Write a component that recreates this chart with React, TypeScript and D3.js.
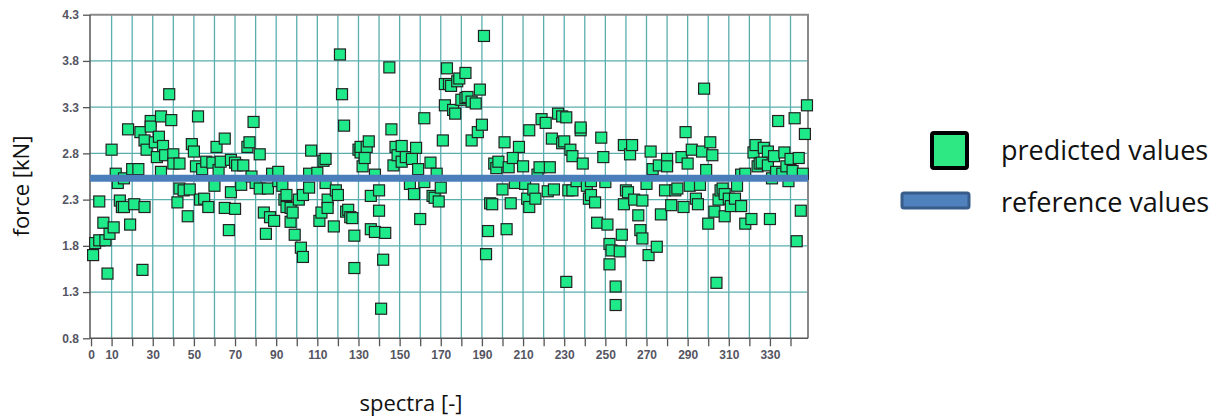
import * as d3 from "d3";
import { useEffect, useRef } from "react";

// spectrum index of every predicted point
const spectra = [
  1, 2, 4, 4, 6, 7, 8, 9, 10, 11, 12, 13, 14, 15, 16, 16, 18, 19, 20, 21, 23, 24, 25, 26, 26, 27, 29, 29, 31, 32, 33, 34, 34, 35, 36, 38, 39, 40, 40, 42, 43, 43, 45, 47, 48, 49, 50, 51, 52, 53, 54, 55, 56, 57,
  59, 60, 61, 62, 63, 65, 65, 67, 68, 68, 70, 70, 71, 73, 74, 76, 77, 78, 79, 80, 82, 82, 84, 85, 86, 87, 88, 89, 91, 91, 93, 94, 95, 95, 97, 97, 98, 99, 101, 102, 103, 103, 106, 106, 107, 110, 111, 112, 113, 114, 114, 115, 115,
  118, 119, 120, 121, 122, 123, 124, 125, 126, 127, 128, 128, 130, 131, 131, 132, 133, 134, 135, 136, 136, 138, 138, 140, 140, 141, 142, 143, 145, 146, 147, 148, 149, 151, 151, 153, 155, 156, 157, 158, 159, 160, 162, 162, 165, 166, 167, 168, 169, 170, 171, 172, 172, 173,
  174, 175, 176, 177, 178, 179, 180, 182, 182, 183, 185, 185, 187, 188, 189, 190, 191, 192, 193, 194, 195, 196, 197, 198, 200, 201, 202, 203, 204, 205, 206, 208, 210, 211, 212, 213, 213, 215, 216, 217, 218, 219, 221, 222, 223, 224, 225, 227, 229, 229, 230, 231, 232,
  231, 233, 234, 234, 236, 238, 238, 239, 241, 242, 243, 243, 245, 246, 248, 249, 250, 251, 252, 252, 253, 255, 255, 257, 258, 259, 259, 260, 261, 262, 263, 264, 266, 267, 268, 268, 270, 271, 272, 273, 275, 276, 277, 279, 280, 280, 282, 284, 285, 287, 288, 289, 290,
  291, 292, 294, 295, 296, 297, 298, 299, 300, 301, 302, 303, 304, 305, 306, 307, 308, 308, 310, 311, 313, 314, 316, 316, 318, 318, 321, 322, 323, 324, 325, 326, 327, 329, 329, 330, 331, 332, 333, 334, 336, 337, 338, 339, 340, 341, 342, 343, 344, 345, 346, 347, 348,
];

// predicted force [kN], same order as spectra
const force = [
  1.7, 1.83, 1.86, 2.28, 2.05, 1.86, 1.5, 1.93, 2.84, 2.0, 2.58, 2.48, 2.29, 2.22, 2.22, 2.53, 3.06, 2.03, 2.63, 2.25, 2.63, 3.03, 1.54, 2.22, 2.94, 2.84, 3.15, 3.09, 2.92, 2.76, 2.98, 3.2, 2.6, 2.88, 2.78, 3.44, 3.16, 2.79, 2.69, 2.27, 2.69, 2.42, 2.4, 2.12, 2.41, 2.9, 2.82, 2.66, 3.2, 2.3, 2.63, 2.31, 2.71, 2.22,
  2.7, 2.45, 2.87, 2.62, 2.71, 2.96, 2.21, 1.97, 2.38, 2.73, 2.2, 2.7, 2.67, 2.46, 2.67, 2.87, 2.92, 2.55, 3.14, 2.48, 2.79, 2.42, 2.16, 1.93, 2.42, 2.11, 2.58, 2.07, 2.6, 2.5, 2.45, 2.3, 2.35, 2.22, 2.21, 2.06, 2.16, 1.92, 2.3, 1.78, 2.35, 1.68, 2.43, 2.58, 2.83, 2.59, 2.07, 2.16, 2.72, 2.48, 2.74, 2.3, 2.21,
  2.01, 2.4, 2.35, 3.87, 3.44, 3.1, 2.17, 2.19, 2.11, 2.1, 1.91, 1.56, 2.84, 2.81, 2.87, 2.66, 2.75, 2.87, 2.93, 2.34, 1.98, 2.57, 1.95, 2.4, 2.18, 1.12, 1.65, 1.94, 3.73, 3.06, 2.67, 2.87, 2.78, 2.88, 2.71, 2.76, 2.47, 2.74, 2.36, 2.86, 2.63, 2.09, 3.18, 2.49, 2.7, 2.34, 2.32, 2.58, 2.28, 2.43, 2.94, 3.32, 3.55, 3.72,
  3.55, 3.53, 3.27, 3.23, 3.58, 3.61, 3.38, 3.67, 3.4, 3.41, 3.36, 2.94, 3.34, 3.03, 3.49, 3.11, 4.07, 1.71, 1.96, 2.26, 2.25, 2.69, 2.64, 2.71, 2.41, 2.92, 1.98, 2.65, 2.26, 2.75, 2.48, 2.87, 2.66, 2.47, 2.31, 2.22, 3.05, 2.41, 2.31, 2.57, 2.65, 3.17, 3.13, 2.39, 2.65, 2.96, 2.41, 3.23, 3.2, 2.91, 2.93, 1.41, 2.4,
  3.19, 2.84, 2.77, 2.4, 2.5, 3.05, 3.08, 2.69, 2.45, 2.31, 2.35, 2.5, 2.27, 2.05, 2.97, 2.76, 2.49, 2.03, 1.82, 1.6, 1.75, 1.36, 1.16, 1.74, 1.92, 2.25, 2.89, 2.4, 2.38, 2.79, 2.89, 2.3, 2.13, 1.97, 2.29, 1.88, 2.47, 1.7, 2.82, 2.63, 1.79, 2.67, 2.14, 2.4, 2.74, 2.66, 2.24, 2.4, 2.42, 2.76, 2.22, 3.03, 2.69,
  2.45, 2.84, 2.31, 2.25, 2.46, 2.82, 3.5, 2.62, 2.04, 2.92, 2.78, 2.17, 1.4, 2.3, 2.4, 2.42, 2.12, 2.36, 2.31, 2.23, 2.31, 2.45, 2.23, 2.57, 2.04, 2.58, 2.09, 2.81, 2.89, 2.66, 2.69, 2.7, 2.86, 2.82, 2.67, 2.09, 2.53, 2.77, 2.6, 3.15, 2.58, 2.81, 2.66, 2.5, 2.74, 2.61, 3.18, 1.85, 2.75, 2.18, 2.58, 3.01, 3.32,
];

const referenceValue = 2.53;

const xTicks = d3.range(0, 341, 10);
const xTickLabels = [0, 10, 30, 50, 70, 90, 110, 130, 150, 170, 190, 210, 230, 250, 270, 290, 310, 330];
const yTicks = [0.8, 1.3, 1.8, 2.3, 2.8, 3.3, 3.8, 4.3];

const legendItems = ["predicted values", "reference values"];

const App = () => {
  const ref = useRef<SVGSVGElement>(null);

  useEffect(() => {
    const svg = d3.select(ref.current);
    svg.selectAll("*").remove();

    const left = 90;
    const right = 808;
    const top = 14.7;
    const bottom = 338.3;

    const x = d3.scaleLinear().domain([-0.5, 348.5]).range([left, right]);
    const y = d3.scaleLinear().domain([0.8, 4.3]).range([bottom, top]);

    const grid = "#5aaeae";

    // grid
    svg
      .append("g")
      .selectAll("line")
      .data(xTicks.filter((d) => d > 0))
      .join("line")
      .attr("x1", (d) => x(d))
      .attr("x2", (d) => x(d))
      .attr("y1", top)
      .attr("y2", bottom)
      .attr("stroke", grid)
      .attr("stroke-width", 1.3);

    svg
      .append("g")
      .selectAll("line")
      .data(yTicks.slice(1, -1))
      .join("line")
      .attr("x1", left)
      .attr("x2", right)
      .attr("y1", (d) => y(d))
      .attr("y2", (d) => y(d))
      .attr("stroke", grid)
      .attr("stroke-width", 1.3);

    // frame top/right
    svg
      .append("path")
      .attr("d", `M${left},${top}H${right}V${bottom}`)
      .attr("fill", "none")
      .attr("stroke", "#8a8a8a")
      .attr("stroke-width", 2);

    // axes
    const yAxis = svg
      .append("g")
      .attr("transform", `translate(${left},0)`)
      .call(d3.axisLeft(y).tickValues(yTicks).tickSize(7).tickPadding(4).tickFormat(d3.format(".1f")));

    const xAxis = svg
      .append("g")
      .attr("transform", `translate(0,${bottom})`)
      .call(
        d3
          .axisBottom(x)
          .tickValues(xTicks)
          .tickSize(8)
          .tickPadding(4)
          .tickFormat((d) => (xTickLabels.includes(+d) ? String(d) : ""))
      );

    [xAxis, yAxis].forEach((g) => {
      g.select(".domain").attr("stroke", "#555").attr("stroke-width", 1.5);
      g.selectAll(".tick line").attr("stroke", "#555").attr("stroke-width", 1.3);
      g.selectAll(".tick text")
        .attr("fill", "#555562")
        .style("font-family", "'Liberation Sans', Arial, sans-serif")
        .style("font-weight", "bold")
        .style("font-size", "12px");
    });
    xAxis.select(".domain").attr("d", `M${left},0H${right}`);
    yAxis.select(".domain").attr("d", `M0,${top}V${bottom}`);

    // predicted points
    const size = 11;
    svg
      .append("g")
      .selectAll("rect")
      .data(spectra.map((s, i) => ({ s, v: force[i] })))
      .join("rect")
      .attr("x", (d) => x(d.s) - size / 2)
      .attr("y", (d) => y(d.v) - size / 2)
      .attr("width", size)
      .attr("height", size)
      .attr("fill", "#1fea8a")
      .attr("stroke", "#222")
      .attr("stroke-width", 1.2);

    // reference line
    svg
      .append("line")
      .attr("x1", left)
      .attr("x2", right)
      .attr("y1", y(referenceValue))
      .attr("y2", y(referenceValue))
      .attr("stroke", "#4a7ebb")
      .attr("stroke-width", 7);

    // axis titles
    const titleFont = "'Open Sans', 'Noto Sans', sans-serif";
    svg
      .append("text")
      .attr("transform", `translate(29,186) rotate(-90)`)
      .attr("text-anchor", "middle")
      .style("font-family", titleFont)
      .style("font-size", "22px")
      .attr("fill", "#111")
      .text("force [kN]");

    svg
      .append("text")
      .attr("x", 411)
      .attr("y", 411)
      .attr("text-anchor", "middle")
      .style("font-family", titleFont)
      .style("font-size", "22px")
      .attr("fill", "#111")
      .text("spectra [-]");

    // legend
    const legend = svg.append("g");
    legend
      .append("rect")
      .attr("x", 932)
      .attr("y", 133)
      .attr("width", 35)
      .attr("height", 35)
      .attr("rx", 2)
      .attr("fill", "#2ee884")
      .attr("stroke", "#000")
      .attr("stroke-width", 4);
    legend
      .append("rect")
      .attr("x", 902)
      .attr("y", 193)
      .attr("width", 67)
      .attr("height", 15)
      .attr("rx", 2)
      .attr("fill", "#4f81bd")
      .attr("stroke", "#385d8a")
      .attr("stroke-width", 3);
    legend
      .selectAll("text")
      .data(legendItems)
      .join("text")
      .attr("x", 1001)
      .attr("y", (d, i) => 160 + i * 52)
      .style("font-family", titleFont)
      .style("font-size", "27px")
      .attr("fill", "#111")
      .text((d) => d);
  }, []);

  return (
    <svg
      ref={ref}
      width={1222}
      height={419}
      style={{ position: "absolute", left: 0, top: 0, background: "#fff" }}
    />
  );
};

export default App;
